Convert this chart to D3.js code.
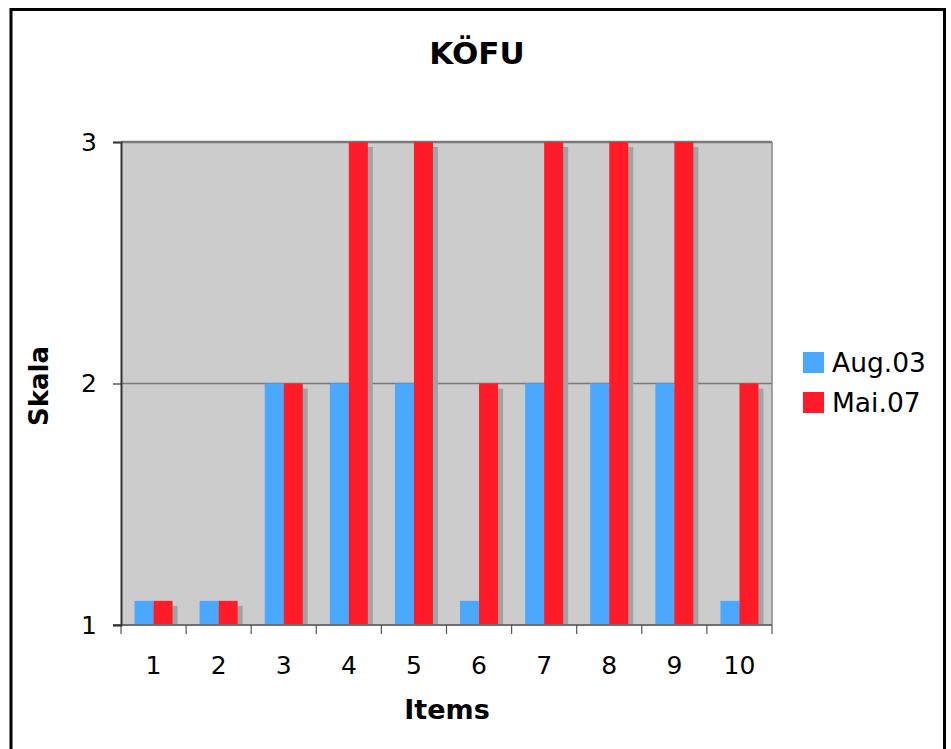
<!DOCTYPE html>
<html>
<head>
<meta charset="utf-8">
<script src="https://cdn.jsdelivr.net/npm/d3@7"></script>
<style>
  html, body { margin: 0; padding: 0; background: #fff; }
  svg { display: block; font-family: "DejaVu Sans", Verdana, sans-serif; }
</style>
</head>
<body>
<svg id="chart" width="951" height="749"></svg>
<script>
// Item numbers on the x axis
const items = ["1", "2", "3", "4", "5", "6", "7", "8", "9", "10"];
// Survey rounds
const seriesNames = ["Aug.03", "Mai.07"];
const seriesColors = ["#4aa8ff", "#ff1c28"];
// Scale values per item
const aug03 = [1.1, 1.1, 2, 2, 2, 1.1, 2, 2, 2, 1.1];
const mai07 = [1.1, 1.1, 2, 3, 3, 2, 3, 3, 3, 2];
// Y axis ticks
const yTicks = [1, 2, 3];

const svg = d3.select("#chart");

// outer frame
svg.append("rect")
  .attr("x", 11).attr("y", 9.5)
  .attr("width", 933.5).attr("height", 800)
  .attr("fill", "#fff").attr("stroke", "#000").attr("stroke-width", 3);

const plot = { left: 121, right: 772, top: 142, bottom: 625 };

const x = d3.scaleBand()
  .domain(items)
  .range([plot.left, plot.right])
  .paddingInner(0.416)
  .paddingOuter(0.208);

const xSub = d3.scaleBand()
  .domain(seriesNames)
  .range([0, x.bandwidth()]);

const y = d3.scaleLinear()
  .domain([1, 3])
  .range([plot.bottom, plot.top]);

// plot background
svg.append("rect")
  .attr("x", plot.left).attr("y", plot.top)
  .attr("width", plot.right - plot.left).attr("height", plot.bottom - plot.top)
  .attr("fill", "#cccccc");

// horizontal gridlines
svg.append("g")
  .selectAll("line")
  .data(yTicks.filter(t => t !== 1))
  .join("line")
  .attr("x1", plot.left).attr("x2", plot.right)
  .attr("y1", d => y(d)).attr("y2", d => y(d))
  .attr("stroke", "#7a7a7a").attr("stroke-width", d => d === 3 ? 2.5 : 1.5);

// right edge of plot
svg.append("line")
  .attr("x1", plot.right).attr("x2", plot.right)
  .attr("y1", plot.top).attr("y2", plot.bottom)
  .attr("stroke", "#8a8a8a").attr("stroke-width", 1.5);

const rows = items.map((it, i) => ({ item: it, values: [aug03[i], mai07[i]] }));
const cells = rows.flatMap(r => r.values.map((v, k) => ({ item: r.item, name: seriesNames[k], value: v, k })));

// drop shadow of every bar, drawn underneath all bars
const shadowOff = 5;
svg.append("g")
  .selectAll("rect")
  .data(cells)
  .join("rect")
  .attr("x", d => x(d.item) + xSub(d.name) + shadowOff)
  .attr("y", d => y(d.value) + shadowOff)
  .attr("width", xSub.bandwidth())
  .attr("height", d => Math.max(0, y(1) - y(d.value) - shadowOff))
  .attr("fill", "#a2a2a2");

// bars
svg.append("g")
  .selectAll("rect")
  .data(cells)
  .join("rect")
  .attr("x", d => x(d.item) + xSub(d.name))
  .attr("y", d => y(d.value))
  .attr("width", xSub.bandwidth())
  .attr("height", d => y(1) - y(d.value))
  .attr("fill", d => seriesColors[d.k]);

// x axis labels
const xAxis = d3.axisBottom(x).tickSize(0).tickPadding(0);
const gx = svg.append("g")
  .attr("transform", `translate(0,${plot.bottom})`)
  .call(xAxis);
gx.select(".domain").remove();
gx.selectAll("text")
  .attr("dy", null)
  .attr("y", 49)
  .attr("fill", "#000")
  .attr("font-size", 25)
  .attr("font-family", "DejaVu Sans, Verdana, sans-serif");

// x axis line and tick marks between items
svg.append("line")
  .attr("x1", plot.left - 8).attr("x2", plot.right)
  .attr("y1", plot.bottom).attr("y2", plot.bottom)
  .attr("stroke", "#707070").attr("stroke-width", 2);
const step = x.step();
svg.append("g")
  .selectAll("line")
  .data(d3.range(items.length + 1))
  .join("line")
  .attr("x1", i => plot.left + i * step).attr("x2", i => plot.left + i * step)
  .attr("y1", plot.bottom).attr("y2", plot.bottom + 9)
  .attr("stroke", "#555").attr("stroke-width", 1.2);

// y axis
const yAxis = d3.axisLeft(y).tickValues(yTicks).tickFormat(d3.format("d")).tickSize(8).tickPadding(16);
const gy = svg.append("g")
  .attr("transform", `translate(${plot.left},0)`)
  .call(yAxis);
gy.select(".domain").attr("stroke", "#333").attr("stroke-width", 2);
gy.selectAll(".tick line").attr("stroke", "#333").attr("stroke-width", 1.2);
gy.selectAll("text")
  .attr("fill", "#000")
  .attr("font-size", 25)
  .attr("font-family", "DejaVu Sans, Verdana, sans-serif");

// title
svg.append("text")
  .attr("x", 477).attr("y", 64)
  .attr("text-anchor", "middle")
  .attr("font-size", 31).attr("font-weight", "bold")
  .text("KÖFU");

// axis titles
svg.append("text")
  .attr("x", 447).attr("y", 719)
  .attr("text-anchor", "middle")
  .attr("font-size", 27).attr("font-weight", "bold")
  .text("Items");

svg.append("text")
  .attr("transform", `translate(48,386) rotate(-90)`)
  .attr("text-anchor", "middle")
  .attr("font-size", 26).attr("font-weight", "bold")
  .text("Skala");

// legend
const legend = svg.append("g").attr("transform", "translate(803,352)");
const li = legend.selectAll("g")
  .data(seriesNames)
  .join("g")
  .attr("transform", (d, i) => `translate(0,${i * 40})`);
li.append("rect")
  .attr("width", 21).attr("height", 21)
  .attr("fill", (d, i) => seriesColors[i]);
li.append("text")
  .attr("x", 29).attr("y", 20)
  .attr("font-size", 26.5)
  .text(d => d);
</script>
</body>
</html>
